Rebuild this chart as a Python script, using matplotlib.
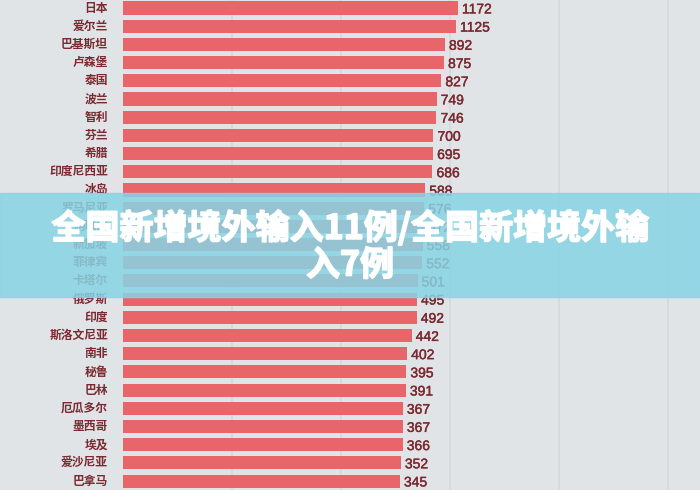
import matplotlib
matplotlib.use('Agg')
import matplotlib.pyplot as plt
import matplotlib.patheffects as pe
from matplotlib.patches import Rectangle

plt.rcParams['font.family'] = ['Noto Sans CJK SC', 'DejaVu Sans']

countries = ['日本', '爱尔兰', '巴基斯坦', '卢森堡', '泰国', '波兰', '智利', '芬兰', '希腊',
             '印度尼西亚', '冰岛', '罗马尼亚', '阿联酋', '新加坡', '菲律宾', '卡塔尔', '俄罗斯',
             '印度', '斯洛文尼亚', '南非', '秘鲁', '巴林', '厄瓜多尔', '墨西哥', '埃及',
             '爱沙尼亚', '巴拿马']
values = [1172, 1125, 892, 875, 827, 749, 746, 700, 695, 686, 588, 576, 572, 558, 552,
          501, 495, 492, 442, 402, 395, 391, 367, 367, 366, 352, 345]
title_lines = ['全国新增境外输入11例/全国新增境外输', '入7例']

BG = '#e1e4e7'
BAR = '#e8666a'
TXT = '#7a2a30'

fig = plt.figure(figsize=(7, 4.9), dpi=100)
fig.set_facecolor(BG)
ax = fig.add_axes([123 / 700, 0, 1 - 123 / 700, 1])
ax.set_facecolor(BG)

ypos = list(range(len(countries)))
ax.barh(ypos, values, left=1, height=0.72, color=BAR, zorder=2)
ax.set_xscale('log')
ax.set_xlim(1, 10 ** 5.29)
ax.set_ylim(26.49, -0.44)

for gx in [10, 100, 1000, 10000, 100000]:
    ax.axvline(gx, color='#d4d8dc', lw=1.2, zorder=1)

for y, name, v in zip(ypos, countries, values):
    ax.text(-15 / 577, y, name, transform=ax.get_yaxis_transform(), ha='right', va='center',
            fontsize=8.5, color=TXT, fontweight='bold')
    ax.annotate(str(v), (v, y), xytext=(3, -1), textcoords='offset points', ha='left',
                va='center', fontsize=10, color=TXT, family='Liberation Sans',
                path_effects=[pe.withStroke(linewidth=0.3, foreground=TXT)])

for s in ax.spines.values():
    s.set_visible(False)
ax.set_xticks([])
ax.set_yticks([])
ax.minorticks_off()

# banner over the chart
fig.patches.append(Rectangle((0, 1 - 297 / 490), 1, 104 / 490, transform=fig.transFigure,
                             color='#88d4e4', alpha=0.85, zorder=5))
heavy = [pe.withStroke(linewidth=1.2, foreground='white')]
fig.text(0.5, 1 - 228 / 490, title_lines[0], ha='center', va='center', fontsize=24.5,
         color='white', fontweight='bold', zorder=6, path_effects=heavy)
fig.text(0.5, 1 - 265 / 490, title_lines[1], ha='center', va='center', fontsize=24.5,
         color='white', fontweight='bold', zorder=6, path_effects=heavy)

fig.savefig('out.png', dpi=100, facecolor=BG)
